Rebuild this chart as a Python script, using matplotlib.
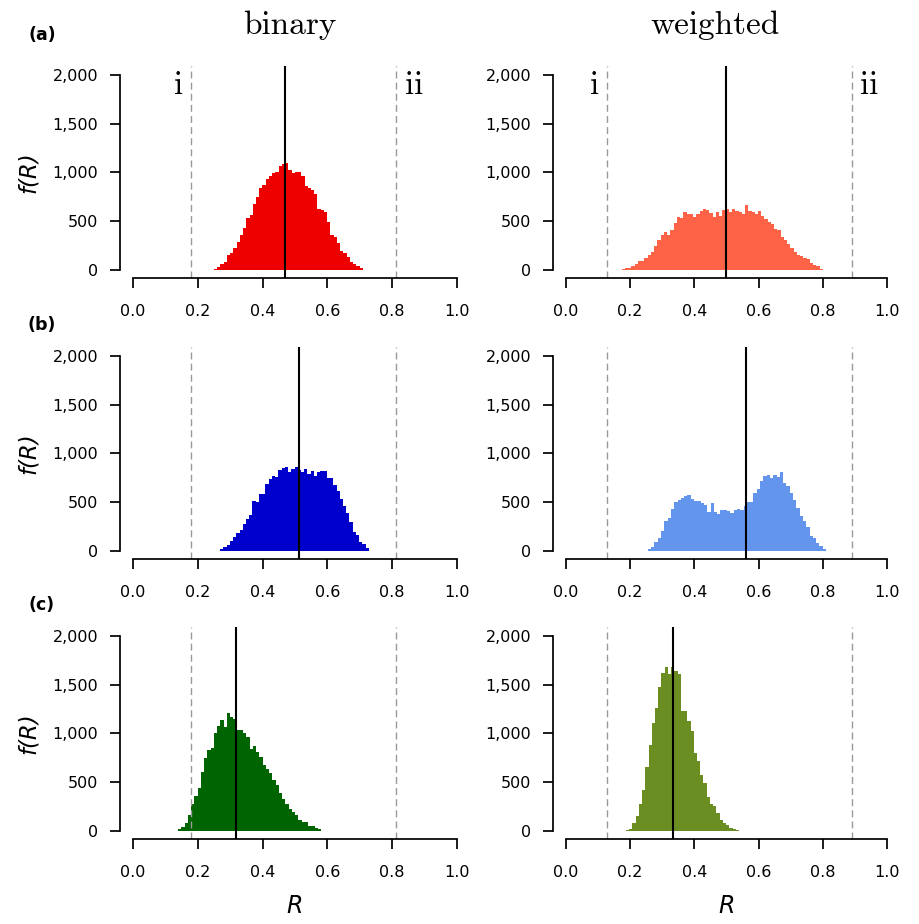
import numpy as np
import matplotlib
matplotlib.use("Agg")
import matplotlib.pyplot as plt
from matplotlib.ticker import FuncFormatter

# ---------------- data ----------------
col_titles = ["binary", "weighted"]
row_labels = ["(a)", "(b)", "(c)"]

# histogram counts, one bin of ~0.01 each, with the observed R range
a_bin_counts = [15, 30, 65, 85, 155, 175, 225, 290, 360, 430, 530, 560, 675, 745, 840, 870,
                930, 960, 990, 1010, 1070, 1090, 1100, 1030, 990, 1010, 1010, 960, 860, 840,
                820, 775, 630, 620, 590, 490, 360, 340, 280, 190, 170, 130, 80, 60, 40, 20, 5]
a_bin_range = (0.250, 0.719)

a_wei_counts = [7, 21, 21, 41, 62, 92, 92, 123, 154, 185, 246, 308, 359, 390, 359, 410, 482,
                544, 533, 595, 574, 574, 544, 574, 605, 626, 615, 585, 544, 595, 554, 615,
                626, 595, 626, 605, 595, 574, 667, 605, 595, 574, 605, 554, 523, 492, 472,
                421, 410, 338, 308, 267, 226, 185, 154, 144, 123, 113, 72, 51, 41, 10]
a_wei_range = (0.174, 0.800)

b_bin_counts = [20, 41, 62, 103, 144, 185, 215, 277, 328, 369, 513, 503, 585, 585, 687, 738,
                769, 759, 831, 851, 862, 810, 841, 862, 831, 810, 841, 790, 820, 769, 810,
                820, 820, 749, 749, 677, 615, 533, 462, 390, 298, 195, 164, 92, 72, 31]
b_bin_range = (0.269, 0.728)

b_wei_counts = [21, 41, 92, 133, 205, 308, 338, 431, 503, 523, 544, 564, 574, 533, 513, 513,
                492, 472, 400, 492, 400, 379, 420, 420, 410, 390, 420, 431, 420, 462, 503,
                503, 595, 636, 718, 769, 780, 749, 780, 759, 810, 697, 667, 595, 523, 441,
                359, 308, 246, 154, 133, 82, 51, 21]
b_wei_range = (0.255, 0.810)

c_bin_counts = [16, 46, 87, 159, 282, 364, 446, 610, 744, 826, 856, 1000, 1072, 1134, 1062,
                1205, 1164, 1144, 1031, 1031, 1000, 959, 836, 867, 815, 764, 672, 631, 590,
                518, 467, 385, 333, 272, 221, 200, 169, 108, 97, 97, 56, 56, 26, 16, 5, 5, 5]
c_bin_range = (0.139, 0.611)

c_wei_counts = [6, 16, 78, 150, 273, 417, 652, 878, 1104, 1258, 1473, 1617, 1679, 1607, 1679,
                1644, 1607, 1228, 1228, 1125, 1022, 796, 714, 570, 488, 344, 273, 252, 180,
                108, 78, 57, 26, 16, 6]
c_wei_range = (0.187, 0.539)

# mean R (solid black lines)
mean_R = [[0.469, 0.498], [0.512, 0.561], [0.318, 0.333]]
# reference R values i and ii (dashed lines)
ref_i = [0.18, 0.128]
ref_ii = [0.812, 0.89]

colors = [["#ee0000", "#ff6347"], ["#0000cd", "#6495ed"], ["#006400", "#6b8e23"]]

counts = [[a_bin_counts, a_wei_counts], [b_bin_counts, b_wei_counts], [c_bin_counts, c_wei_counts]]
ranges = [[a_bin_range, a_wei_range], [b_bin_range, b_wei_range], [c_bin_range, c_wei_range]]

xticks = [0.0, 0.2, 0.4, 0.6, 0.8, 1.0]
yticks = [0, 500, 1000, 1500, 2000]

# ---------------- figure ----------------
W, H = 919, 924
fig = plt.figure(figsize=(W / 100, H / 100), dpi=100)

col_left = [120, 553]
col_width = [350, 347]
row_top = [66, 347, 627]
row_height = 212

serif = "cmr10"

for r in range(3):
    for c in range(2):
        ax = fig.add_axes([col_left[c] / W, 1 - (row_top[r] + row_height) / H,
                           col_width[c] / W, row_height / H])
        cnt = np.array(counts[r][c], dtype=float)
        lo, hi = ranges[r][c]
        edges = np.linspace(lo, hi, len(cnt) + 1)
        ax.hist(edges[:-1], bins=edges, weights=cnt, color=colors[r][c],
                histtype="bar", rwidth=1.0, linewidth=0)
        ax.axvline(ref_i[c], color="#999999", lw=1.0, ls=(0, (5, 3)))
        ax.axvline(ref_ii[c], color="#999999", lw=1.0, ls=(0, (5, 3)))
        ax.axvline(mean_R[r][c], color="black", lw=1.5)
        ax.set_xlim(-0.04, 1.04)
        ax.set_ylim(-82, 2092)
        for s in ["top", "right"]:
            ax.spines[s].set_visible(False)
        ax.spines["left"].set_bounds(0, 2000)
        ax.spines["bottom"].set_bounds(0, 1)
        for s in ["left", "bottom"]:
            ax.spines[s].set_linewidth(1.25)
        ax.set_xticks(xticks)
        ax.set_yticks(yticks)
        ax.xaxis.set_major_formatter(FuncFormatter(lambda v, p: f"{v:.1f}"))
        ax.yaxis.set_major_formatter(FuncFormatter(lambda v, p: f"{v:,.0f}"))
        ax.tick_params(axis="both", length=7.5, width=1.25, labelsize=11.5)
        ax.tick_params(axis="x", pad=11)
        ax.tick_params(axis="y", pad=8)
        if c == 0:
            ax.set_ylabel("f(R)", fontsize=16.5, style="italic", labelpad=9)
        if r == 2:
            ax.set_xlabel("R", fontsize=17, style="italic", labelpad=10)
        if r == 0:
            ax.text(ref_i[c] - 0.04, 1890, "i", family=serif, fontsize=24,
                    ha="center", va="center")
            ax.text(ref_ii[c] + 0.055, 1890, "ii", family=serif, fontsize=24,
                    ha="center", va="center")

for k, lab in enumerate(row_labels):
    ypix = [35, 325, 605][k]
    fig.text(42 / W, 1 - ypix / H, lab, fontsize=12.5, fontweight="bold",
             ha="center", va="center")

fig.text(290 / W, 1 - 25 / H, col_titles[0], family=serif, fontsize=24, ha="center", va="center")
fig.text(715 / W, 1 - 25 / H, col_titles[1], family=serif, fontsize=24, ha="center", va="center")

fig.savefig("out.png", dpi=100)
